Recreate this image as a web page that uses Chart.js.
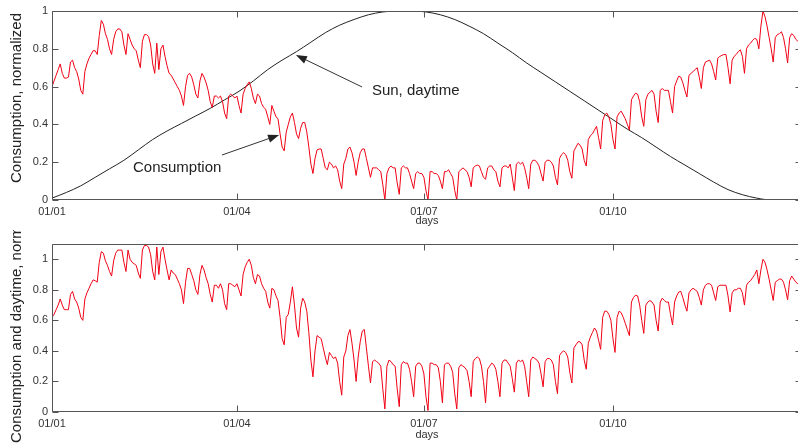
<!DOCTYPE html>
<html>
<head>
<meta charset="utf-8">
<script src="https://cdn.jsdelivr.net/npm/chart.js@4.4.1/dist/chart.umd.min.js"></script>
<style>
html, body { margin: 0; padding: 0; background: #fff; overflow: hidden; width: 798px; height: 446px; }
#top { position: absolute; left: 0; top: 0; }
#bottom { position: absolute; left: 0; top: 230px; }
</style>
</head>
<body>
<canvas id="top" width="806" height="230"></canvas>
<canvas id="bottom" width="806" height="216"></canvas>
<script>
// x axis: day of year, labelled by month start
const dayTicks = [0, 90, 181, 273];
const dayTickLabels = ["01/01", "01/04", "01/07", "01/10"];
const yTicks = [0, 0.2, 0.4, 0.6, 0.8, 1];

// daily consumption, normalized (one row per week, Mon..Sun)
const consumption = [
  0.60, 0.63,
  0.66, 0.69, 0.72, 0.67, 0.645, 0.645, 0.65,
  0.73, 0.74, 0.70, 0.68, 0.64, 0.58, 0.56,
  0.68, 0.72, 0.75, 0.77, 0.79, 0.79, 0.77,
  0.87, 0.95, 0.93, 0.88, 0.85, 0.80, 0.77,
  0.85, 0.89, 0.905, 0.905, 0.89, 0.82, 0.77,
  0.88, 0.85, 0.82, 0.80, 0.79, 0.74, 0.70,
  0.84, 0.875, 0.875, 0.865, 0.82, 0.72, 0.67,
  0.83, 0.69, 0.80, 0.82, 0.76, 0.71, 0.67,
  0.66, 0.64, 0.62, 0.60, 0.58, 0.55, 0.50,
  0.60, 0.66, 0.67, 0.65, 0.61, 0.56, 0.54,
  0.63, 0.67, 0.65, 0.62, 0.58, 0.52, 0.49,
  0.55, 0.55, 0.54, 0.55, 0.52, 0.46, 0.43,
  0.55, 0.56, 0.55, 0.54, 0.55, 0.50, 0.46,
  0.56, 0.59, 0.61, 0.625, 0.59, 0.54, 0.51,
  0.56, 0.55, 0.51, 0.49, 0.48, 0.44, 0.40,
  0.50, 0.47, 0.44, 0.43, 0.35, 0.28, 0.26,
  0.36, 0.40, 0.44, 0.46, 0.41, 0.35, 0.325,
  0.38, 0.41, 0.41, 0.36, 0.28, 0.19, 0.14,
  0.22, 0.265, 0.27, 0.27, 0.22, 0.17, 0.16,
  0.20, 0.19, 0.17, 0.18, 0.16, 0.10, 0.06,
  0.19, 0.22, 0.27, 0.28, 0.25, 0.20, 0.13,
  0.20, 0.25, 0.27, 0.27, 0.22, 0.17, 0.12,
  0.17, 0.17, 0.17, 0.16, 0.15, 0.08, 0.00,
  0.14, 0.17, 0.18, 0.17, 0.17, 0.09, 0.03,
  0.17, 0.18, 0.17, 0.17, 0.14, 0.10, 0.06,
  0.14, 0.15, 0.14, 0.14, 0.12, 0.05, 0.00,
  0.15, 0.15, 0.14, 0.14, 0.13, 0.10, 0.06,
  0.15, 0.15, 0.16, 0.14, 0.12, 0.05, 0.00,
  0.15, 0.16, 0.17, 0.16, 0.15, 0.12, 0.07,
  0.17, 0.18, 0.185, 0.18, 0.15, 0.12, 0.11,
  0.17, 0.18, 0.18, 0.16, 0.15, 0.10, 0.07,
  0.17, 0.18, 0.18, 0.17, 0.19, 0.12, 0.05,
  0.19, 0.20, 0.19, 0.20, 0.17, 0.12, 0.06,
  0.19, 0.21, 0.21, 0.20, 0.18, 0.14, 0.10,
  0.20, 0.21, 0.21, 0.20, 0.18, 0.12, 0.08,
  0.22, 0.24, 0.25, 0.24, 0.21, 0.15, 0.115,
  0.26, 0.28, 0.30, 0.29, 0.27, 0.21, 0.18,
  0.32, 0.34, 0.35, 0.37, 0.39, 0.33, 0.27,
  0.42, 0.45, 0.46, 0.44, 0.40, 0.32, 0.27,
  0.44, 0.46, 0.47, 0.45, 0.43, 0.40, 0.37,
  0.53, 0.55, 0.565, 0.56, 0.52, 0.44, 0.39,
  0.53, 0.56, 0.57, 0.58, 0.56, 0.47, 0.41,
  0.58, 0.59, 0.58, 0.58, 0.58, 0.52, 0.46,
  0.60, 0.63, 0.655, 0.65, 0.62, 0.58, 0.545,
  0.66, 0.67, 0.68, 0.69, 0.70, 0.65, 0.59,
  0.70, 0.73, 0.735, 0.74, 0.72, 0.68, 0.635,
  0.75, 0.76, 0.765, 0.77, 0.77, 0.70, 0.615,
  0.74, 0.76, 0.77, 0.785, 0.795, 0.76, 0.67,
  0.80, 0.82, 0.83, 0.845, 0.855, 0.85, 0.80,
  0.92, 1.00, 0.97, 0.92, 0.86, 0.80, 0.73,
  0.86, 0.875, 0.88, 0.89, 0.86, 0.80, 0.725,
  0.86, 0.88, 0.87, 0.85, 0.84, 0.84
];

// daily consumption related to daytime, normalized
const consumptionDaytime = [
  0.62, 0.64,
  0.67, 0.70, 0.74, 0.70, 0.67, 0.67, 0.67,
  0.77, 0.79, 0.74, 0.72, 0.68, 0.62, 0.60,
  0.74, 0.78, 0.81, 0.84, 0.865, 0.86, 0.85,
  0.98, 1.05, 1.04, 0.99, 0.96, 0.92, 0.89,
  0.99, 1.04, 1.06, 1.06, 1.06, 0.98, 0.92,
  1.06, 1.00, 0.98, 0.97, 0.96, 0.91, 0.875,
  1.06, 1.09, 1.09, 1.08, 1.03, 0.92, 0.865,
  1.08, 0.90, 1.05, 1.08, 1.00, 0.93, 0.865,
  0.93, 0.91, 0.90, 0.87, 0.84, 0.80, 0.71,
  0.85, 0.94, 0.94, 0.90, 0.86, 0.80, 0.77,
  0.90, 0.96, 0.93, 0.88, 0.84, 0.77, 0.72,
  0.83, 0.83, 0.81, 0.84, 0.80, 0.71, 0.67,
  0.84, 0.84, 0.83, 0.82, 0.84, 0.80, 0.76,
  0.90, 0.95, 0.98, 1.00, 0.96, 0.88, 0.84,
  0.90, 0.89, 0.84, 0.81, 0.79, 0.72, 0.68,
  0.81, 0.80, 0.76, 0.73, 0.62, 0.48, 0.44,
  0.62, 0.64, 0.72, 0.82, 0.70, 0.55, 0.49,
  0.68, 0.745, 0.72, 0.66, 0.52, 0.34, 0.23,
  0.40, 0.50, 0.49, 0.48, 0.42, 0.36, 0.31,
  0.39, 0.37, 0.35, 0.36, 0.32, 0.20, 0.11,
  0.36, 0.40, 0.50, 0.54, 0.45, 0.34, 0.20,
  0.36, 0.46, 0.53, 0.54, 0.42, 0.30, 0.19,
  0.33, 0.34, 0.33, 0.32, 0.30, 0.15, 0.02,
  0.30, 0.34, 0.33, 0.31, 0.30, 0.15, 0.035,
  0.31, 0.33, 0.32, 0.32, 0.28, 0.20, 0.10,
  0.30, 0.32, 0.32, 0.30, 0.25, 0.10, 0.01,
  0.32, 0.32, 0.31, 0.31, 0.29, 0.20, 0.06,
  0.31, 0.32, 0.32, 0.30, 0.26, 0.12, 0.02,
  0.29, 0.31, 0.30, 0.29, 0.27, 0.20, 0.10,
  0.33, 0.35, 0.36, 0.35, 0.30, 0.20, 0.06,
  0.28, 0.30, 0.32, 0.31, 0.28, 0.20, 0.10,
  0.32, 0.34, 0.34, 0.32, 0.30, 0.22, 0.13,
  0.32, 0.34, 0.33, 0.34, 0.30, 0.20, 0.10,
  0.34, 0.36, 0.35, 0.34, 0.32, 0.25, 0.165,
  0.33, 0.35, 0.35, 0.34, 0.31, 0.20, 0.12,
  0.37, 0.39, 0.40, 0.39, 0.36, 0.26, 0.19,
  0.42, 0.44, 0.46, 0.46, 0.44, 0.34, 0.28,
  0.45, 0.49, 0.52, 0.55, 0.53, 0.47, 0.41,
  0.62, 0.66, 0.66, 0.64, 0.60, 0.48, 0.39,
  0.62, 0.66, 0.65, 0.62, 0.58, 0.54, 0.50,
  0.72, 0.75, 0.765, 0.76, 0.70, 0.60, 0.515,
  0.70, 0.72, 0.73, 0.72, 0.70, 0.60, 0.53,
  0.72, 0.745, 0.73, 0.72, 0.72, 0.64, 0.57,
  0.72, 0.76, 0.785, 0.79, 0.75, 0.70, 0.66,
  0.78, 0.80, 0.81, 0.80, 0.79, 0.75, 0.70,
  0.80, 0.83, 0.84, 0.84, 0.83, 0.78, 0.73,
  0.82, 0.83, 0.83, 0.83, 0.83, 0.76, 0.655,
  0.78, 0.80, 0.80, 0.81, 0.81, 0.78, 0.70,
  0.83, 0.85, 0.86, 0.88, 0.90, 0.93, 0.84,
  0.93, 1.00, 0.98, 0.93, 0.87, 0.80, 0.73,
  0.85, 0.86, 0.87, 0.87, 0.85, 0.80, 0.735,
  0.86, 0.89, 0.87, 0.85, 0.84, 0.84
];

// length of daytime, normalized, read once a week
const sunDays = [
  0, 7, 14, 21, 28, 35, 42, 49, 56, 63, 70, 77, 84, 91, 98, 105, 112, 119,
  126, 133, 140, 147, 154, 161, 168, 175, 182, 189, 196, 203, 210, 217, 224,
  231, 238, 245, 252, 259, 266, 273, 280, 287, 294, 301, 308, 315, 322, 329,
  336, 343, 350, 357, 364
];
const sunDaytime = [
  0.01, 0.04, 0.075, 0.12, 0.165, 0.21, 0.265, 0.32, 0.365, 0.405, 0.445, 0.485,
  0.53, 0.575, 0.63, 0.69, 0.74, 0.785, 0.835, 0.885, 0.925, 0.955, 0.98, 0.995,
  1.0, 1.0, 0.995, 0.98, 0.955, 0.92, 0.88, 0.83, 0.78, 0.725, 0.675, 0.625,
  0.575, 0.525, 0.475, 0.425, 0.375, 0.33, 0.28, 0.23, 0.185, 0.14, 0.095,
  0.055, 0.028, 0.01, 0.0, 0.0, 0.0
];

const FONT = '"Liberation Sans", Arial, sans-serif';
const tickColor = "#333";

// box with inward tick marks on all four sides, plus the y label
const frame = {
  id: "frame",
  afterDatasetsDraw(chart, args, opts) {
    const { ctx, chartArea: a, scales: { x, y } } = chart;
    const l = Math.round(a.left) + 0.5, r = Math.round(a.right) - 0.5;
    const t = Math.round(a.top) + 0.5, b = Math.round(a.bottom) - 0.5;
    ctx.save();
    ctx.strokeStyle = "#555";
    ctx.lineWidth = 1;
    ctx.beginPath();
    ctx.rect(l, t, r - l, b - t);
    dayTicks.forEach(d => {
      const px = Math.round(x.getPixelForValue(d)) + 0.5;
      ctx.moveTo(px, b); ctx.lineTo(px, b - 6);
      ctx.moveTo(px, t); ctx.lineTo(px, t + 6);
    });
    yTicks.forEach(v => {
      const py = Math.round(y.getPixelForValue(v)) + 0.5;
      ctx.moveTo(l, py); ctx.lineTo(l + 6, py);
      ctx.moveTo(r, py); ctx.lineTo(r - 6, py);
    });
    ctx.stroke();

    ctx.fillStyle = "#222";
    ctx.font = "15px " + FONT;
    ctx.translate(opts.labelX, opts.labelY);
    ctx.rotate(-Math.PI / 2);
    ctx.textAlign = opts.labelAlign;
    ctx.textBaseline = "middle";
    ctx.fillText(opts.label, 0, 0);
    ctx.restore();
  }
};

// text + arrow notes on the upper panel, placed in data units
const notes = [
  { text: "Sun, daytime", at: [155.7, 0.577], from: [150.9, 0.598], to: [118.7, 0.767] },
  { text: "Consumption", at: [39.4, 0.169], from: [82.7, 0.238], to: [110.5, 0.344] }
];

const notePlugin = {
  id: "notes",
  afterDatasetsDraw(chart) {
    const { ctx, scales: { x, y } } = chart;
    ctx.save();
    ctx.font = "15px " + FONT;
    ctx.fillStyle = "#222";
    ctx.strokeStyle = "#333";
    ctx.lineWidth = 1;
    ctx.textAlign = "left";
    ctx.textBaseline = "middle";
    notes.forEach(n => {
      ctx.fillText(n.text, x.getPixelForValue(n.at[0]), y.getPixelForValue(n.at[1]));
      const x1 = x.getPixelForValue(n.from[0]), y1 = y.getPixelForValue(n.from[1]);
      const x2 = x.getPixelForValue(n.to[0]), y2 = y.getPixelForValue(n.to[1]);
      const ang = Math.atan2(y2 - y1, x2 - x1);
      ctx.beginPath();
      ctx.moveTo(x1, y1);
      ctx.lineTo(x2 - 8 * Math.cos(ang), y2 - 8 * Math.sin(ang));
      ctx.stroke();
      ctx.beginPath();
      ctx.moveTo(x2, y2);
      ctx.lineTo(x2 - 11 * Math.cos(ang) + 4 * Math.sin(ang), y2 - 11 * Math.sin(ang) - 4 * Math.cos(ang));
      ctx.lineTo(x2 - 11 * Math.cos(ang) - 4 * Math.sin(ang), y2 - 11 * Math.sin(ang) + 4 * Math.cos(ang));
      ctx.closePath();
      ctx.fill();
    });
    ctx.restore();
  }
};

function xAxis(height, titleBottom) {
  return {
    type: "linear",
    min: 0,
    max: 365,
    grid: { display: false, drawTicks: false },
    border: { display: false },
    afterBuildTicks: s => { s.ticks = dayTicks.map(v => ({ value: v })); },
    afterFit: s => { s.height = height; },
    ticks: {
      padding: 5,
      color: tickColor,
      font: { family: FONT, size: 11 },
      maxRotation: 0,
      autoSkip: false,
      callback: v => dayTickLabels[dayTicks.indexOf(v)]
    },
    title: {
      display: true,
      text: "days",
      color: tickColor,
      font: { family: FONT, size: 11 },
      padding: { top: 0, bottom: titleBottom }
    }
  };
}

function yAxis(max) {
  return {
    min: 0,
    max: max,
    grid: { display: false, drawTicks: false },
    border: { display: false },
    afterBuildTicks: s => { s.ticks = yTicks.map(v => ({ value: v })); },
    afterFit: s => { s.width = 52; },
    ticks: {
      padding: 4,
      color: tickColor,
      font: { family: FONT, size: 11 },
      callback: v => String(v)
    }
  };
}

const redLine = "rgb(240,0,20)";

new Chart(document.getElementById("top"), {
  type: "line",
  data: {
    datasets: [
      {
        data: consumption.map((v, i) => ({ x: i, y: v })),
        borderColor: redLine,
        borderWidth: 1,
        pointRadius: 0,
        tension: 0
      },
      {
        data: sunDays.map((d, i) => ({ x: d, y: sunDaytime[i] })),
        borderColor: "#222",
        borderWidth: 1,
        pointRadius: 0,
        cubicInterpolationMode: "monotone"
      }
    ]
  },
  options: {
    responsive: false,
    animation: false,
    devicePixelRatio: 1,
    events: [],
    layout: { padding: { top: 11, right: 4, left: 0, bottom: 0 } },
    scales: { x: xAxis(30, 2), y: yAxis(1) },
    plugins: {
      legend: { display: false },
      tooltip: { enabled: false },
      frame: { label: "Consumption, normalized", labelX: 17, labelY: 98, labelAlign: "center" }
    }
  },
  plugins: [frame, notePlugin]
});

new Chart(document.getElementById("bottom"), {
  type: "line",
  data: {
    datasets: [
      {
        data: consumptionDaytime.map((v, i) => ({ x: i, y: v })),
        borderColor: redLine,
        borderWidth: 1,
        pointRadius: 0,
        tension: 0
      }
    ]
  },
  options: {
    responsive: false,
    animation: false,
    devicePixelRatio: 1,
    events: [],
    layout: { padding: { top: 14, right: 4, left: 0, bottom: 0 } },
    scales: { x: xAxis(34, 4), y: yAxis(1.1) },
    plugins: {
      legend: { display: false },
      tooltip: { enabled: false },
      frame: { label: "Consumption and daytime, normalized", labelX: 17, labelY: 213, labelAlign: "left" }
    }
  },
  plugins: [frame]
});
</script>
</body>
</html>
